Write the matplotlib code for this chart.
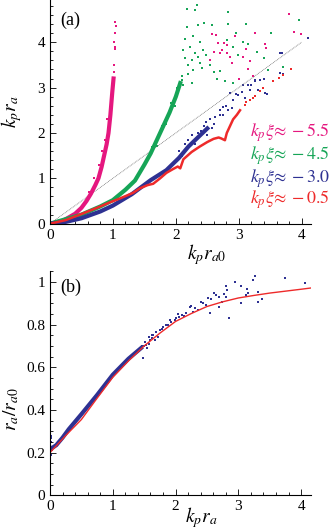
import matplotlib
matplotlib.use("Agg")
import matplotlib.pyplot as plt
from matplotlib.ticker import MultipleLocator

plt.rcParams["font.family"] = ["Liberation Serif", "DejaVu Serif"]
plt.rcParams["mathtext.fontset"] = "stix"

MAGENTA = "#e5177f"
GREEN = "#16a557"
BLUE = "#2e3192"
RED = "#ee2a2a"

# ---- panel (a): dense cores ----
mag_x = [0, 0.2, 0.4, 0.5, 0.58, 0.65, 0.72, 0.77, 0.82, 0.86, 0.9, 0.93, 0.96, 0.99, 1.01]
mag_y = [0, 0.06, 0.22, 0.35, 0.5, 0.66, 0.85, 1.0, 1.25, 1.5, 1.75, 2.0, 2.4, 2.9, 3.2]
grn_x = [0, 0.25, 0.5, 0.8, 1.0, 1.2, 1.35, 1.5, 1.6, 1.7, 1.8, 1.9, 2.0, 2.07]
grn_y = [0, 0.1, 0.2, 0.38, 0.52, 0.75, 0.95, 1.3, 1.55, 1.85, 2.15, 2.45, 2.8, 3.1]
blu_x = [0, 0.25, 0.5, 0.8, 1.0, 1.3, 1.6, 1.85, 2.05, 2.2, 2.35, 2.5]
blu_y = [0, 0.04, 0.12, 0.27, 0.40, 0.65, 0.96, 1.18, 1.45, 1.7, 1.9, 2.1]
red_x = [0, 0.25, 0.53, 0.8, 0.95, 1.1, 1.22, 1.32, 1.43, 1.55, 1.64, 1.75, 1.85, 1.95,
         2.03, 2.07, 2.12, 2.25, 2.38, 2.5, 2.6, 2.68, 2.72, 2.78, 2.81, 2.86, 2.91, 2.97, 3.02]
red_y = [0, 0.08, 0.23, 0.38, 0.47, 0.55, 0.62, 0.68, 0.78, 0.85, 0.88, 1.0, 1.12, 1.2,
         1.26, 1.22, 1.42, 1.58, 1.70, 1.80, 1.87, 1.9, 1.88, 1.84, 2.0, 2.15, 2.3, 2.4, 2.5]

# ---- panel (a): sparse points ----
mag_sx = [1.02, 1.03, 1.02, 1.04, 1.05, 1.04, 1.01, 1.0, 1.03,
          3.80, 3.88, 3.99, 3.26, 2.57, 2.64, 2.67, 2.76, 2.70, 2.81, 2.60, 2.86, 2.89,
          3.07, 3.12, 3.18, 3.15, 3.22, 3.00, 3.41, 3.43, 2.94, 2.73, 2.54, 2.81,
          0.62, 0.7, 0.78, 0.84, 0.88, 0.92, 0.97, 0.76, 0.83, 0.9]
mag_sy = [3.5, 3.85, 4.0, 4.2, 4.35, 4.45, 3.35, 3.1, 3.9,
          4.62, 4.22, 4.17, 4.21, 4.18, 4.15, 3.98, 3.98, 3.76, 3.76, 3.79, 3.68, 3.55,
          3.67, 3.84, 3.59, 3.41, 3.26, 3.19, 3.95, 3.87, 4.13, 3.82, 3.61, 3.93,
          0.7, 1.0, 1.3, 1.35, 1.85, 2.05, 2.8, 0.95, 1.6, 2.3]
grn_sx = [2.34, 2.17, 2.83, 2.30, 2.36, 2.45, 2.17, 2.58, 2.83, 3.12, 3.52, 3.96, 2.27,
          2.15, 2.39, 2.23, 2.12, 2.30, 2.43, 2.48, 2.15, 2.26, 2.36, 2.20, 2.39, 2.54,
          2.28, 2.41, 2.60, 2.70, 2.65, 2.78, 2.91, 2.99, 3.15, 3.29, 3.40, 3.47, 2.91,
          2.09, 2.81, 2.95, 3.07, 2.05, 2.1, 2.12, 2.2, 2.25, 3.7,
          1.62, 1.7, 1.78, 1.85, 1.92, 1.98, 2.02]
grn_sy = [4.82, 4.73, 4.66, 4.70, 4.38, 4.42, 4.34, 4.38, 4.40, 4.40, 4.20, 4.49, 4.13,
          4.07, 4.01, 3.90, 3.83, 3.76, 3.83, 3.72, 3.65, 3.61, 3.68, 3.50, 3.54, 3.50,
          3.39, 3.43, 3.35, 3.37, 3.18, 3.15, 3.90, 3.72, 3.97, 3.79, 3.65, 3.39, 3.11,
          3.17, 4.05, 4.21, 4.01, 3.0, 3.25, 3.05, 3.3, 3.1, 3.45,
          1.7, 1.72, 2.15, 2.2, 2.65, 2.6, 3.0]
blu_sx = [4.10, 3.65, 3.33, 3.26, 3.20, 3.65, 3.42, 3.07, 2.91, 2.86, 2.99, 2.75, 2.70,
          2.83, 3.10, 3.18, 3.68, 2.05, 2.15, 2.25, 2.3, 2.4, 2.45, 2.5, 2.55, 2.6,
          2.62, 2.7, 2.75, 2.1, 2.2, 2.35, 2.48, 2.58, 2.8, 2.9, 2.95, 3.05, 3.15,
          3.25, 3.3, 3.4, 3.45, 3.7]
blu_sy = [4.09, 3.76, 3.17, 3.17, 3.06, 3.32, 2.88, 3.06, 2.73, 2.88, 2.84, 2.58, 2.40,
          2.51, 2.76, 2.95, 3.76, 1.6, 1.75, 1.95, 1.75, 2.05, 2.15, 1.95, 2.3, 2.2,
          2.35, 2.5, 2.4, 1.5, 1.85, 2.0, 2.25, 2.1, 2.6, 2.55, 2.85, 2.9, 3.05,
          3.15, 2.95, 3.2, 2.85, 3.3]
red_sx = [3.1, 3.18, 3.26, 3.33, 3.38, 3.55, 3.64, 3.70, 3.83, 3.12, 3.22]
red_sy = [2.62, 2.72, 2.82, 2.92, 2.98, 3.14, 3.22, 3.28, 3.41, 2.68, 2.78]

diag = [0, 4]

legend_labels = [r"$k_p\xi\!\approx -5.5$", r"$k_p\xi\!\approx -4.5$",
                 r"$k_p\xi\!\approx -3.0$", r"$k_p\xi\!\approx -0.5$"]
legend_colors = [MAGENTA, GREEN, BLUE, RED]
legend_y = [2.0, 1.5, 1.0, 0.52]

# ---- panel (b) ----
fit_x = [0, 0.25, 0.5, 0.75, 1.0, 1.25, 1.5, 1.75, 2.0, 2.25, 2.5, 2.75, 3.0, 3.25,
         3.5, 3.75, 4.0, 4.16]
fit_y = [0.2, 0.28, 0.355, 0.455, 0.553, 0.63, 0.70, 0.76, 0.815, 0.852, 0.885, 0.907,
         0.925, 0.937, 0.948, 0.957, 0.966, 0.972]
b_core_x = [0, 0.05, 0.1, 0.2, 0.3, 0.5, 0.75, 1.0, 1.25, 1.45]
b_core_y = [0.22, 0.225, 0.235, 0.27, 0.31, 0.38, 0.47, 0.565, 0.64, 0.69]
b_sx = [0.0, 0.01, 0.02, 0.0, 0.03, 0.01, 0.04, 0.02,
        3.26, 3.23, 3.74, 4.07, 2.94, 2.80, 3.05, 3.14, 3.16, 3.31, 3.13, 3.38, 3.32,
        2.85, 2.82, 2.77, 2.70, 2.65, 2.62, 2.74, 2.70, 2.57, 2.52, 2.44, 2.41, 2.25,
        2.23, 2.31, 2.28, 2.17, 2.11, 2.06, 2.04, 1.99, 1.93, 1.91, 1.85, 1.80, 1.75,
        1.69, 1.64, 1.72, 1.67, 1.62, 2.55, 2.81, 3.05, 1.5, 1.52, 1.55, 1.48, 1.58,
        1.6, 1.53, 1.57, 1.46, 1.62, 1.78, 1.88, 2.0, 2.14, 2.36, 2.48]
b_sy = [0.10, 0.27, 0.25, 0.24, 0.21, 0.28, 0.22, 0.19,
        1.03, 1.01, 1.02, 0.994, 0.998, 0.981, 0.983, 0.967, 0.950, 0.952, 0.939, 0.919,
        0.905, 0.833, 0.962, 0.944, 0.931, 0.939, 0.947, 0.907, 0.881, 0.920, 0.923,
        0.900, 0.905, 0.889, 0.884, 0.876, 0.861, 0.856, 0.845, 0.837, 0.850, 0.822,
        0.814, 0.822, 0.798, 0.791, 0.775, 0.767, 0.752, 0.744, 0.728, 0.736, 0.856,
        0.931, 0.900, 0.70, 0.72, 0.69, 0.645, 0.71, 0.73, 0.705, 0.74, 0.70, 0.75,
        0.78, 0.80, 0.83, 0.84, 0.87, 0.89]


def style(ax, xmax, ymax):
    ax.spines["top"].set_visible(False)
    ax.spines["right"].set_visible(False)
    ax.set_xlim(0, xmax)
    ax.set_ylim(0, ymax)
    ax.tick_params(which="both", direction="in", labelsize=11, width=0.6)
    ax.tick_params(which="major", length=4)
    ax.tick_params(which="minor", length=2.5)


fig = plt.figure(figsize=(3.31, 5.32), dpi=100)

# panel (a)
ax1 = fig.add_axes([0.151, 0.5795, 0.789, 0.4205])
ax1.plot(diag, diag, color="0.45", lw=0.6, ls=(0, (1, 1)))
ax1.plot(mag_x, mag_y, color=MAGENTA, lw=3)
ax1.scatter(mag_sx, mag_sy, s=3, color=MAGENTA, marker="s", lw=0)
ax1.plot(grn_x, grn_y, color=GREEN, lw=3)
ax1.scatter(grn_sx, grn_sy, s=3, color=GREEN, marker="s", lw=0)
ax1.plot(blu_x, blu_y, color=BLUE, lw=3)
ax1.scatter(blu_sx, blu_sy, s=3, color=BLUE, marker="s", lw=0)
ax1.plot(red_x, red_y, color=RED, lw=1.8)
ax1.scatter(red_sx, red_sy, s=3, color=RED, marker="s", lw=0)
style(ax1, 4.15, 4.93)
ax1.xaxis.set_major_locator(MultipleLocator(1))
ax1.xaxis.set_minor_locator(MultipleLocator(0.2))
ax1.yaxis.set_major_locator(MultipleLocator(1))
ax1.yaxis.set_minor_locator(MultipleLocator(0.2))
ax1.set_xlabel(r"$k_p r_{a0}$", fontsize=14)
ax1.set_ylabel(r"$k_p r_a$", fontsize=14)
ax1.xaxis.set_label_coords(0.6, -0.08)
ax1.yaxis.set_label_coords(-0.1, 0.5)
ax1.text(0.04, 0.91, "(a)", transform=ax1.transAxes, fontsize=13, va="center")
for lab, col, yy in zip(legend_labels, legend_colors, legend_y):
    ax1.text(4.45, yy, lab, color=col, fontsize=13, ha="right", va="center",
             clip_on=False)

# panel (b)
ax2 = fig.add_axes([0.151, 0.069, 0.789, 0.421])
ax2.plot(b_core_x, b_core_y, color=BLUE, lw=3)
ax2.scatter(b_sx, b_sy, s=3, color=BLUE, marker="s", lw=0)
ax2.plot(fit_x, fit_y, color=RED, lw=1)
style(ax2, 4.16, 1.05)
ax2.xaxis.set_major_locator(MultipleLocator(1))
ax2.xaxis.set_minor_locator(MultipleLocator(0.2))
ax2.yaxis.set_major_locator(MultipleLocator(0.2))
ax2.yaxis.set_minor_locator(MultipleLocator(0.05))
ax2.set_yticks([0, 0.2, 0.4, 0.6, 0.8, 1.0])
ax2.set_yticklabels(["0", "0.2", "0.4", "0.6", "0.8", "1"])
ax2.set_xlabel(r"$k_p r_a$", fontsize=14)
ax2.set_ylabel(r"$r_a / r_{a0}$", fontsize=14)
ax2.xaxis.set_label_coords(0.58, -0.045)
ax2.yaxis.set_label_coords(-0.11, 0.385)
ax2.text(0.04, 0.93, "(b)", transform=ax2.transAxes, fontsize=13, va="center")

fig.savefig("out.png", dpi=100)
